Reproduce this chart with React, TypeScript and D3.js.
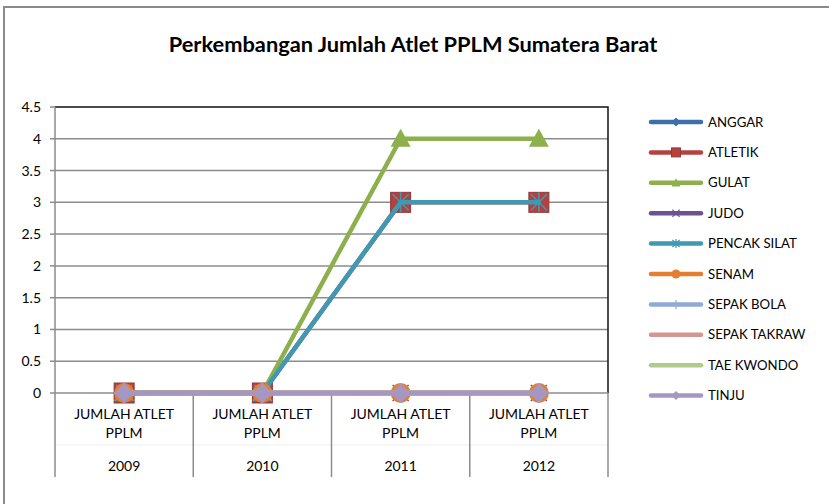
import React from 'react';
import * as d3 from 'd3';

const years = ['2009', '2010', '2011', '2012'];
const categoryLines = ['JUMLAH ATLET', 'PPLM'];
const seriesNames = ['ANGGAR', 'ATLETIK', 'GULAT', 'JUDO', 'PENCAK SILAT', 'SENAM', 'SEPAK BOLA', 'SEPAK TAKRAW', 'TAE KWONDO', 'TINJU'];
const anggar = [0, 0, 0, 0];
const atletik = [0, 0, 3, 3];
const gulat = [0, 0, 4, 4];
const judo = [0, 0, 0, 0];
const pencakSilat = [0, 0, 3, 3];
const senam = [0, 0, 0, 0];
const sepakBola = [0, 0, 0, 0];
const sepakTakraw = [0, 0, 0, 0];
const taeKwondo = [0, 0, 0, 0];
const tinju = [0, 0, 0, 0];
const yTicks = [0, 0.5, 1, 1.5, 2, 2.5, 3, 3.5, 4, 4.5];

const allValues = [anggar, atletik, gulat, judo, pencakSilat, senam, sepakBola, sepakTakraw, taeKwondo, tinju];
const colors = ['#3f6faa', '#b5413e', '#8db04c', '#6d5192', '#3e9ab4', '#e47f32', '#8faad6', '#d59593', '#b1cb8b', '#a597c1'];
const markerKinds = ['diamond', 'square', 'triangle', 'x', 'star', 'circle', 'plus', 'none', 'none', 'diamond'];

const font = 'Lato, "Open Sans", sans-serif';

function Marker({ kind, x, y, s, color }: { kind: string; x: number; y: number; s: number; color: string }) {
  const h = s / 2;
  if (kind === 'none') return null;
  if (kind === 'diamond') {
    return <path d={`M${x},${y - h}L${x + h},${y}L${x},${y + h}L${x - h},${y}Z`} fill={color} />;
  }
  if (kind === 'square') {
    return <rect x={x - h} y={y - h} width={s} height={s} fill={color} stroke={d3.color(color)!.darker(0.5).toString()} strokeWidth={1} />;
  }
  if (kind === 'triangle') {
    return <path d={`M${x},${y - h}L${x + h},${y + h * 0.8}L${x - h},${y + h * 0.8}Z`} fill={color} />;
  }
  if (kind === 'circle') {
    return <circle cx={x} cy={y} r={h} fill={color} />;
  }
  const k = h * 0.8;
  let d = '';
  if (kind === 'x' || kind === 'star') d += `M${x - k},${y - k}L${x + k},${y + k}M${x - k},${y + k}L${x + k},${y - k}`;
  if (kind === 'star') d += `M${x},${y - h}L${x},${y + h}`;
  if (kind === 'plus') d += `M${x - h},${y}L${x + h},${y}M${x},${y - h}L${x},${y + h}`;
  return <path d={d} stroke={color} strokeWidth={s > 12 ? 1.5 : 1.2} fill="none" />;
}

export default function App() {
  const left = 55, right = 608, top = 107, bottom = 393, axisBottom = 477;
  const x = d3.scaleBand<string>().domain(years).range([left, right]);
  const y = d3.scaleLinear().domain([0, 4.5]).range([bottom, top]);
  const cx = (yr: string) => (x(yr) as number) + x.bandwidth() / 2;
  const line = d3.line<number>().x((_, i) => cx(years[i])).y(v => y(v));

  return (
    <svg width={829} height={504} style={{ position: 'absolute', left: 0, top: 0, background: '#fff' }}>
      <path d="M4,504V7H829" fill="none" stroke="#8a8a8a" strokeWidth={2} />
      <text x={413} y={52} textAnchor="middle" fontFamily={font} fontWeight="bold" fontSize={21.8} fill="#000">
        Perkembangan Jumlah Atlet PPLM Sumatera Barat
      </text>

      {yTicks.map(t => (
        <g key={t}>
          {t > 0 && t < 4.5 && <line x1={left} x2={right} y1={y(t)} y2={y(t)} stroke="#8c8c8c" strokeWidth={1.5} />}
          <line x1={left - 5} x2={left} y1={y(t)} y2={y(t)} stroke="#8c8c8c" strokeWidth={1.5} />
          <text x={41} y={y(t) + 5} textAnchor="end" fontFamily={font} fontSize={14} fill="#000">{t}</text>
        </g>
      ))}
      <path d={`M${left},${top}H${right}V${bottom}`} fill="none" stroke="#111" strokeWidth={1.5} />
      <line x1={left} x2={right} y1={bottom} y2={bottom} stroke="#8c8c8c" strokeWidth={1.5} />
      <line x1={left} x2={right} y1={445} y2={445} stroke="#efefef" strokeWidth={1} />
      {[...years.map(yr => x(yr) as number), right].map((vx, i) => (
        <line key={i} x1={vx} x2={vx} y1={i === 0 ? top : bottom} y2={axisBottom} stroke="#8c8c8c" strokeWidth={1.5} />
      ))}
      {years.map(yr => (
        <g key={yr} fontFamily={font} fontSize={14} fill="#000" textAnchor="middle">
          {categoryLines.map((c, i) => (
            <text key={c} x={cx(yr)} y={419 + i * 19}>{c}</text>
          ))}
          <text x={cx(yr)} y={471}>{yr}</text>
        </g>
      ))}

      {allValues.map((vals, si) => (
        <g key={seriesNames[si]}>
          <path d={line(vals) || ''} fill="none" stroke={colors[si]} strokeWidth={4.5} strokeLinejoin="round" strokeLinecap="round" />
          {vals.map((v, i) => (
            <Marker key={i} kind={markerKinds[si]} x={cx(years[i])} y={y(v)} s={20} color={colors[si]} />
          ))}
        </g>
      ))}

      {seriesNames.map((name, i) => {
        const ly = 122 + i * 30.4;
        return (
          <g key={name}>
            <line x1={651} x2={701} y1={ly} y2={ly} stroke={colors[i]} strokeWidth={4.5} strokeLinecap="round" />
            <Marker kind={markerKinds[i]} x={676} y={ly} s={9} color={colors[i]} />
            <text x={708} y={ly + 4.5} fontFamily={font} fontSize={13.2} fill="#000">{name}</text>
          </g>
        );
      })}
    </svg>
  );
}
